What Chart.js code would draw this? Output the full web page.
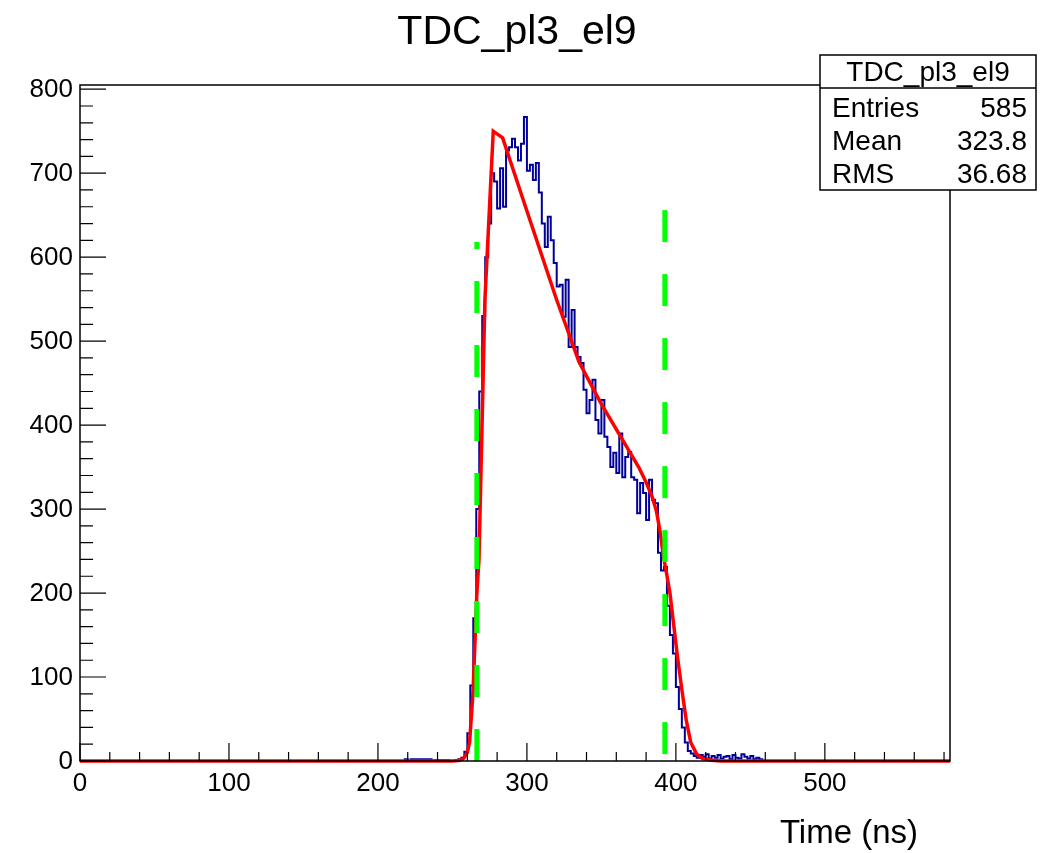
<!DOCTYPE html>
<html>
<head>
<meta charset="utf-8">
<title>TDC_pl3_el9</title>
<script src="https://cdn.jsdelivr.net/npm/chart.js@4.4.1/dist/chart.umd.min.js"></script>
<style>
  html, body { margin: 0; padding: 0; background: #fff; }
  #wrap { width: 1055px; height: 853px; position: relative; }
</style>
</head>
<body>
<div id="wrap"><canvas id="tdc"></canvas></div>
<script>
// histogram: left edge of each bin (ns) and its count (empty bins outside are left out)
const histTime = [218, 220, 222, 236, 238, 248, 250,
  252, 254, 256, 258, 260, 262, 264, 266, 268, 270, 272, 274, 276, 278, 280,
  282, 284, 286, 288, 290, 292, 294, 296, 298, 300, 302, 304, 306, 308, 310,
  312, 314, 316, 318, 320, 322, 324, 326, 328, 330, 332, 334, 336, 338, 340,
  342, 344, 346, 348, 350, 352, 354, 356, 358, 360, 362, 364, 366, 368, 370,
  372, 374, 376, 378, 380, 382, 384, 386, 388, 390, 392, 394, 396, 398, 400,
  402, 404, 406, 408, 410, 412, 414, 416, 418, 420, 422, 424, 426, 428, 430,
  432, 434, 436, 438, 440, 442, 444, 446, 448, 450, 452, 454, 456, 458, 460, 462];
const histCounts = [0, 2, 0, 2, 0, 1, 0,
  0, 1, 2, 4, 11, 33, 90, 170, 300, 440, 530, 600, 640, 700, 690,
  658, 706, 660, 727, 731, 741, 731, 715, 735, 767, 703, 710, 692, 712, 677,
  640, 612, 648, 620, 593, 565, 567, 529, 573, 493, 537, 493, 481, 474, 442,
  414, 430, 454, 406, 390, 430, 386, 374, 350, 367, 343, 390, 338, 362, 368,
  338, 335, 295, 331, 319, 287, 335, 311, 307, 248, 227, 231, 185, 150, 128,
  88, 62, 40, 22, 12, 9, 6, 4, 7, 5, 8, 3, 6, 4, 7,
  3, 5, 6, 2, 7, 4, 3, 8, 5, 3, 6, 2, 4, 2, 0, 0];

// fit curve
const fitTime = [0, 250, 254, 257, 260, 261.5, 263.8, 265.1, 266.4, 267.8, 271.8,
  277.4, 283.7, 300, 320, 335, 350, 365, 375, 380, 384, 387, 389.5, 391.5,
  393.5, 396, 398, 401, 404, 407, 410, 414, 418, 424, 430, 584];
const fitValues = [0, 0, 0.5, 2, 10, 22, 81, 140, 200, 239, 549,
  750, 742, 655, 549, 475, 425, 380, 350, 332, 315, 297, 272, 245,
  226, 200, 170, 125, 85, 48, 22, 8, 3, 1, 0, 0];

// window cuts (green dashed lines)
const cutTimes = [266.4, 392.6];
const cutTops = [618, 656];

const xTicks = [0, 100, 200, 300, 400, 500];
const yTicks = [0, 100, 200, 300, 400, 500, 600, 700, 800];

const statLabels = ["Entries", "Mean", "RMS"];
const statValues = ["585", "323.8", "36.68"];

const FONT = "'Liberation Sans', Arial, Helvetica, sans-serif";

function pts(xs, ys) {
    return xs.map(function (x, i) { return { x: x, y: ys[i] }; });
}

// frame, inward ticks, labels, title and stats box
const rootFrame = {
    id: "rootFrame",
    afterDraw: function (chart) {
        const ctx = chart.ctx;
        const a = chart.chartArea;
        const xs = chart.scales.x;
        const ys = chart.scales.y;
        ctx.save();

        ctx.strokeStyle = "#000";
        ctx.lineWidth = 1.5;
        ctx.strokeRect(a.left, a.top, a.right - a.left, a.bottom - a.top);

        // x ticks
        ctx.beginPath();
        for (let v = 0; v <= xs.max; v += 20) {
            const px = xs.getPixelForValue(v);
            const len = (v % 100 === 0) ? 18 : 9;
            ctx.moveTo(px, a.bottom);
            ctx.lineTo(px, a.bottom - len);
        }
        // y ticks
        for (let v = 0; v <= ys.max; v += 20) {
            const py = ys.getPixelForValue(v);
            const len = (v % 100 === 0) ? 26 : 13;
            ctx.moveTo(a.left, py);
            ctx.lineTo(a.left + len, py);
        }
        ctx.lineWidth = 1.2;
        ctx.stroke();

        ctx.fillStyle = "#000";
        ctx.font = "26px " + FONT;
        ctx.textAlign = "center";
        ctx.textBaseline = "alphabetic";
        xTicks.forEach(function (v) {
            ctx.fillText(String(v), xs.getPixelForValue(v), 791);
        });
        ctx.textAlign = "right";
        ctx.textBaseline = "middle";
        yTicks.forEach(function (v) {
            ctx.fillText(String(v), a.left - 7, ys.getPixelForValue(v) + 1);
        });

        // title and axis title
        ctx.textBaseline = "alphabetic";
        ctx.textAlign = "center";
        ctx.font = "41px " + FONT;
        ctx.fillText("TDC_pl3_el9", 517, 44);
        ctx.textAlign = "right";
        ctx.font = "33px " + FONT;
        ctx.fillText("Time (ns)", 918, 843);

        // stats box
        const bx = 820, by = 55, bw = 216, bh = 135;
        ctx.fillStyle = "#fff";
        ctx.fillRect(bx, by, bw, bh);
        ctx.lineWidth = 1.5;
        ctx.strokeRect(bx, by, bw, bh);
        ctx.beginPath();
        ctx.moveTo(bx, 88);
        ctx.lineTo(bx + bw, 88);
        ctx.stroke();
        ctx.fillStyle = "#000";
        ctx.font = "28px " + FONT;
        ctx.textAlign = "center";
        ctx.fillText("TDC_pl3_el9", bx + bw / 2, 81);
        statLabels.forEach(function (lab, i) {
            const base = 117 + i * 33;
            ctx.textAlign = "left";
            ctx.fillText(lab, 832, base);
            ctx.textAlign = "right";
            ctx.fillText(statValues[i], 1027, base);
        });
        ctx.restore();
    }
};

new Chart(document.getElementById("tdc"), {
    type: "line",
    data: {
        datasets: [
            {
                label: "low cut",
                data: [{ x: cutTimes[0], y: 0 }, { x: cutTimes[0], y: cutTops[0] }],
                borderColor: "#00ff00",
                borderWidth: 5,
                borderDash: [32, 32],
                pointRadius: 0,
                order: 0
            },
            {
                label: "high cut",
                data: [{ x: cutTimes[1], y: cutTops[1] }, { x: cutTimes[1], y: 0 }],
                borderColor: "#00ff00",
                borderWidth: 5,
                borderDash: [32, 32],
                pointRadius: 0,
                order: 0
            },
            {
                label: "fit",
                data: pts(fitTime, fitValues),
                borderColor: "#ff0000",
                borderWidth: 3.5,
                pointRadius: 0,
                tension: 0,
                clip: { left: 0, top: 0, right: 0, bottom: 2 },
                order: 1
            },
            {
                label: "TDC_pl3_el9",
                data: pts(histTime, histCounts),
                borderColor: "#000099",
                borderWidth: 2,
                stepped: "after",
                pointRadius: 0,
                order: 2
            }
        ]
    },
    options: {
        responsive: true,
        maintainAspectRatio: false,
        animation: false,
        layout: { padding: { left: 80, top: 85, right: 105, bottom: 92 } },
        plugins: {
            legend: { display: false },
            tooltip: { enabled: false }
        },
        scales: {
            x: { type: "linear", min: 0, max: 584, display: false },
            y: { type: "linear", min: 0, max: 805, display: false }
        }
    },
    plugins: [rootFrame]
});
</script>
</body>
</html>
